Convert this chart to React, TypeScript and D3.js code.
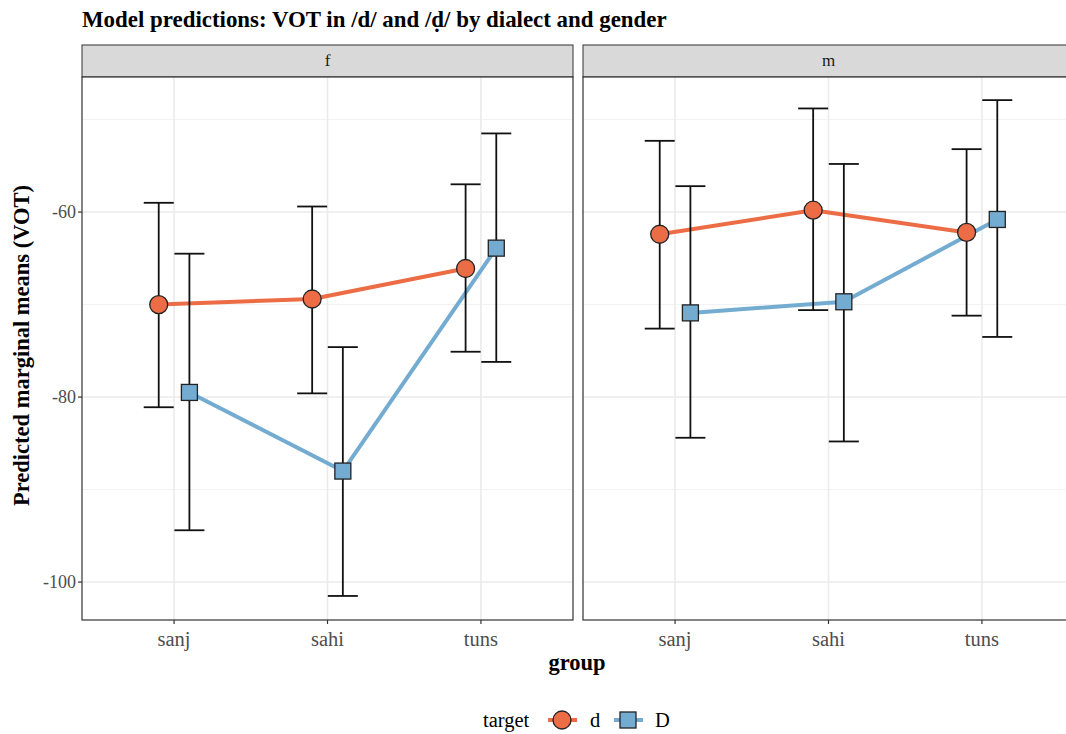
import React from "react";
import * as d3 from "d3";

const groups = ["sanj", "sahi", "tuns"];
const facets = ["f", "m"];
const targets = ["d", "D"];
const yTicks = [-100, -80, -60];
const yMinor = [-90, -70, -50];

const emmean_f_d = [-70.0, -69.4, -66.1];
const lower_f_d = [-81.1, -79.6, -75.1];
const upper_f_d = [-59.0, -59.4, -57.0];
const emmean_f_D = [-79.5, -88.0, -63.9];
const lower_f_D = [-94.4, -101.5, -76.2];
const upper_f_D = [-64.5, -74.6, -51.5];
const emmean_m_d = [-62.4, -59.8, -62.2];
const lower_m_d = [-72.6, -70.6, -71.2];
const upper_m_d = [-52.3, -48.8, -53.2];
const emmean_m_D = [-70.9, -69.7, -60.8];
const lower_m_D = [-84.4, -84.8, -73.5];
const upper_m_D = [-57.2, -54.8, -47.9];

const seriesData: Record<string, Record<string, { mean: number[]; lo: number[]; hi: number[] }>> = {
  f: {
    d: { mean: emmean_f_d, lo: lower_f_d, hi: upper_f_d },
    D: { mean: emmean_f_D, lo: lower_f_D, hi: upper_f_D },
  },
  m: {
    d: { mean: emmean_m_d, lo: lower_m_d, hi: upper_m_d },
    D: { mean: emmean_m_D, lo: lower_m_D, hi: upper_m_D },
  },
};

const colors: Record<string, string> = { d: "#EC6D45", D: "#74ACD1" };
const FONT = "'Liberation Serif', 'DejaVu Serif', serif";

export default function App() {
  const W = 1066, H = 734;
  const panelTop = 77, panelBottom = 620;
  const stripTop = 45;
  const panels = [
    { facet: facets[0], x0: 82, x1: 573 },
    { facet: facets[1], x0: 583, x1: 1074 },
  ];
  const y = d3.scaleLinear().domain([-104.1, -45.4]).range([panelBottom, panelTop]);
  const dodge = 0.2;

  return (
    <svg width={W} height={H} style={{ position: "absolute", left: 0, top: 0, background: "#fff" }} fontFamily={FONT}>
      <text x={82} y={27} fontSize={22.9} fontWeight="bold" fill="#000">
        Model predictions: VOT in /d/ and /ḍ/ by dialect and gender
      </text>
      {panels.map((p) => {
        const x = d3.scaleLinear().domain([0.4, 3.6]).range([p.x0, p.x1]);
        const xOf = (gi: number, ti: number) => x(gi + 1 + (ti === 0 ? -dodge / 2 : dodge / 2));
        return (
          <g key={p.facet}>
            <rect x={p.x0} y={stripTop} width={p.x1 - p.x0} height={panelTop - stripTop} fill="#d9d9d9" stroke="#333" strokeWidth={1} />
            <text x={(p.x0 + p.x1) / 2} y={stripTop + 21} textAnchor="middle" fontSize={17} fill="#1a1a1a">{p.facet}</text>
            <rect x={p.x0} y={panelTop} width={p.x1 - p.x0} height={panelBottom - panelTop} fill="#fff" />
            {yMinor.map((v) => (
              <line key={"mn" + v} x1={p.x0} x2={p.x1} y1={y(v)} y2={y(v)} stroke="#f2f2f2" strokeWidth={1} />
            ))}
            {yTicks.map((v) => (
              <line key={"mj" + v} x1={p.x0} x2={p.x1} y1={y(v)} y2={y(v)} stroke="#ebebeb" strokeWidth={1.6} />
            ))}
            {groups.map((g, gi) => (
              <line key={"gx" + g} x1={x(gi + 1)} x2={x(gi + 1)} y1={panelTop} y2={panelBottom} stroke="#ebebeb" strokeWidth={1.6} />
            ))}
            {targets.map((t, ti) => {
              const s = seriesData[p.facet][t];
              const line = d3.line<number>().x((_, i) => xOf(i, ti)).y((v) => y(v));
              return (
                <path key={"l" + t} d={line(s.mean) || ""} fill="none" stroke={colors[t]} strokeWidth={4} strokeLinejoin="round" />
              );
            })}
            {targets.map((t, ti) => {
              const s = seriesData[p.facet][t];
              return (
                <g key={"e" + t}>
                  {groups.map((g, gi) => {
                    const cx = xOf(gi, ti);
                    const hw = 15;
                    return (
                      <g key={g} stroke="#111" strokeWidth={1.8}>
                        <line x1={cx} x2={cx} y1={y(s.lo[gi])} y2={y(s.hi[gi])} />
                        <line x1={cx - hw} x2={cx + hw} y1={y(s.lo[gi])} y2={y(s.lo[gi])} />
                        <line x1={cx - hw} x2={cx + hw} y1={y(s.hi[gi])} y2={y(s.hi[gi])} />
                      </g>
                    );
                  })}
                </g>
              );
            })}
            {targets.map((t, ti) => {
              const s = seriesData[p.facet][t];
              return (
                <g key={"p" + t}>
                  {groups.map((g, gi) => {
                    const cx = xOf(gi, ti);
                    const cy = y(s.mean[gi]);
                    return t === "d" ? (
                      <circle key={g} cx={cx} cy={cy} r={9} fill={colors[t]} stroke="#222" strokeWidth={1.3} />
                    ) : (
                      <rect key={g} x={cx - 8} y={cy - 8} width={16} height={16} fill={colors[t]} stroke="#222" strokeWidth={1.3} />
                    );
                  })}
                </g>
              );
            })}
            <rect x={p.x0} y={panelTop} width={p.x1 - p.x0} height={panelBottom - panelTop} fill="none" stroke="#333" strokeWidth={1.2} />
            {groups.map((g, gi) => (
              <g key={"xt" + g}>
                <line x1={x(gi + 1)} x2={x(gi + 1)} y1={panelBottom} y2={panelBottom + 4} stroke="#333" strokeWidth={1.2} />
                <text x={x(gi + 1)} y={panelBottom + 26} textAnchor="middle" fontSize={20.5} fill="#4d4d4d">{g}</text>
              </g>
            ))}
            {p.facet === "f" &&
              yTicks.map((v) => (
                <g key={"yt" + v}>
                  <line x1={p.x0 - 4} x2={p.x0} y1={y(v)} y2={y(v)} stroke="#333" strokeWidth={1.2} />
                  <text x={p.x0 - 6} y={y(v) + 6} textAnchor="end" fontSize={18} fill="#4d4d4d">{v}</text>
                </g>
              ))}
          </g>
        );
      })}
      <text x={577} y={670} textAnchor="middle" fontSize={22.5} fontWeight="bold">group</text>
      <text transform={`translate(29, ${(panelTop + panelBottom) / 2 - 3}) rotate(-90)`} textAnchor="middle" fontSize={22.5} fontWeight="bold">
        Predicted marginal means (VOT)
      </text>
      <g>
        <text x={483} y={727} fontSize={20.5} fill="#000">target</text>
        <line x1={548} x2={577} y1={720} y2={720} stroke={colors.d} strokeWidth={4} />
        <circle cx={562} cy={720} r={9} fill={colors.d} stroke="#222" strokeWidth={1.3} />
        <text x={590} y={727} fontSize={20.5} fill="#000">d</text>
        <line x1={614} x2={643} y1={720} y2={720} stroke={colors.D} strokeWidth={4} />
        <rect x={620} y={712} width={16} height={16} fill={colors.D} stroke="#222" strokeWidth={1.3} />
        <text x={655} y={727} fontSize={20.5} fill="#000">D</text>
      </g>
    </svg>
  );
}
